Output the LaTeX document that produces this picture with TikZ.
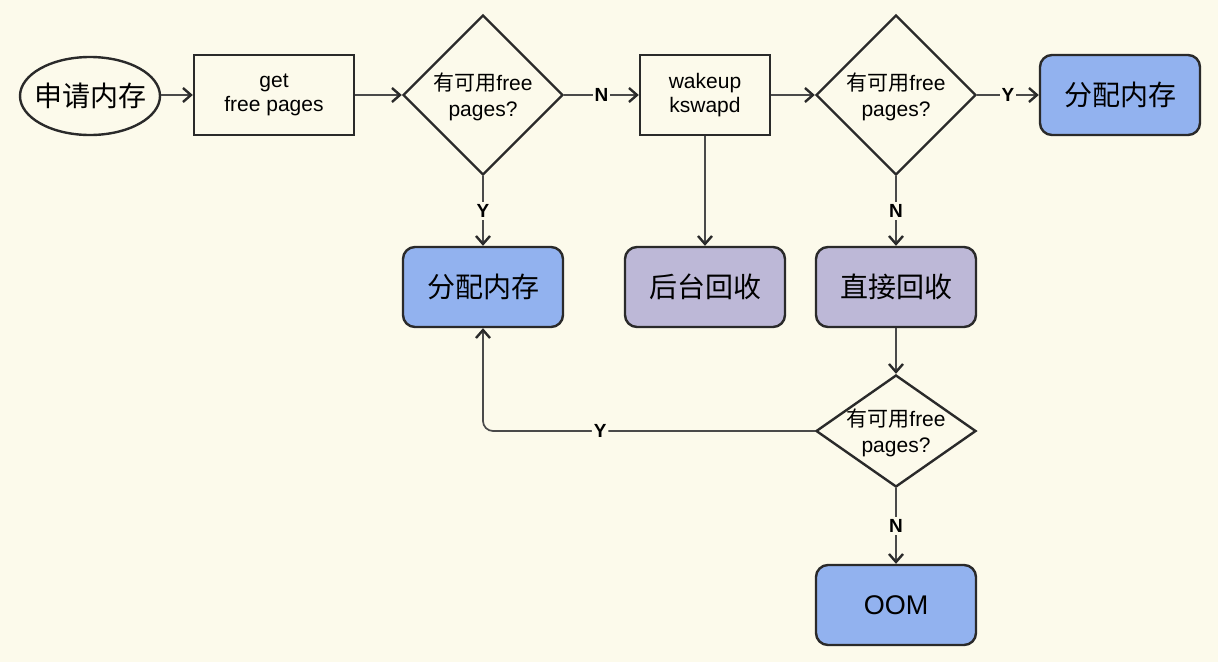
\documentclass[tikz,border=0pt]{standalone}
\usepackage{fontspec}
\setmainfont{Liberation Sans}
\newfontfamily\cjk{Noto Sans CJK SC}
\usetikzlibrary{shapes.geometric,arrows.meta}
\definecolor{bgc}{HTML}{FCFAEB}
\definecolor{bluef}{HTML}{92B2EF}
\definecolor{purf}{HTML}{BDB8D7}
\definecolor{edgec}{HTML}{2A2A2A}
\definecolor{linec}{HTML}{4A4A4A}
\begin{document}
\begin{tikzpicture}[x=1pt,y=-1pt,
  box/.style={draw=edgec, line width=2.4pt, fill=bgc, minimum width=160, minimum height=80,
    inner sep=0pt, align=center, font=\fontsize{21}{24}\selectfont},
  rbox/.style={box, rounded corners=12, font=\cjk\fontsize{28}{32}\selectfont},
  dec/.style={diamond, draw=edgec, line width=2.4pt, fill=bgc, minimum width=160, minimum height=160,
    inner sep=0pt, aspect=1},
  dtext/.style={font=\fontsize{21}{26}\selectfont, align=center, inner sep=0pt, yshift=-2pt},
  conn/.style={draw=linec, line width=1.7pt, -{Straight Barb[length=8pt,width=14pt,line width=2.4pt,color=edgec]}},
  lab/.style={fill=bgc, inner sep=2pt, text=black, font=\bfseries\fontsize{19}{20}\selectfont}]
\fill[bgc] (0,0) rectangle (1218,662);
\useasboundingbox (0,0) rectangle (1218,662);

\node[ellipse, draw=edgec, line width=2.4pt, fill=bgc, minimum width=140, minimum height=78, inner sep=0pt,
  label={[font=\cjk\fontsize{28}{32}\selectfont]center:申请内存}] (start) at (90,96) {};
\node[box] (gfp) at (274,95) {\raisebox{0pt}{get}\\free pages};
\node[dec, label={[dtext]center:{\cjk 有可用}free\\pages?}] (d1) at (483,95) {};
\node[box, minimum width=130] (wk) at (705,95) {wakeup\\kswapd};
\node[dec, label={[dtext]center:{\cjk 有可用}free\\pages?}] (d2) at (896,95) {};
\node[rbox, fill=bluef] (a1) at (1120,95) {分配内存};

\node[rbox, fill=bluef] (a2) at (483,287) {分配内存};
\node[rbox, fill=purf] (bg) at (705,287) {后台回收};
\node[rbox, fill=purf] (zj) at (896,287) {直接回收};
\node[dec, minimum height=112, label={[dtext]center:{\cjk 有可用}free\\pages?}] (d3) at (896,431) {};
\node[rbox, fill=bluef, font=\fontsize{27}{30}\selectfont] (oom) at (896,605) {OOM};

\draw[conn] (start.east |- gfp.west) -- (gfp.west);
\draw[conn] (gfp.east) -- (d1.west);
\draw[conn] (d1.east) -- node[lab]{N} (wk.west);
\draw[conn] (wk.east) -- (d2.west);
\draw[conn] (d2.east) -- node[lab]{Y} (a1.west);
\draw[conn] (d1.south) -- node[lab]{Y} (a2.north);
\draw[conn] (wk.south) -- (bg.north);
\draw[conn] (d2.south) -- node[lab]{N} (zj.north);
\draw[conn] (zj.south) -- (d3.north);
\draw[conn] (d3.south) -- node[lab]{N} (oom.north);
\draw[conn, rounded corners=10] (d3.west) -- node[lab, pos=0.647]{Y} (a2.south |- d3.west) -- (a2.south);
\end{tikzpicture}
\end{document}
